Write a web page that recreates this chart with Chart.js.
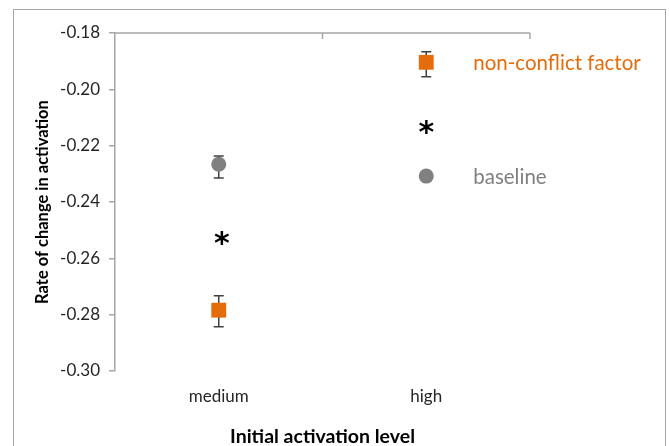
<!DOCTYPE html>
<html>
<head>
<meta charset="utf-8">
<script src="https://cdn.jsdelivr.net/npm/chart.js@4/dist/chart.umd.min.js"></script>
<style>
  html, body { margin: 0; padding: 0; background: #fff; overflow: hidden; }
  #wrap { position: relative; width: 669px; height: 446px; }
  #frame { position: absolute; left: 13px; top: 9px; width: 651px; height: 460px; border: 1.5px solid #a6a6a6; }
  canvas { position: absolute; left: 0; top: 0; }
</style>
</head>
<body>
<div id="wrap">
  <div id="frame"></div>
  <canvas id="myChart" width="669" height="446"></canvas>
</div>
<script>
// data
const categories = ['medium', 'high'];
const nonConflict = [-0.2784, -0.1904];
const nonConflictLow = [-0.2843, -0.1955];
const nonConflictHigh = [-0.2733, -0.1867];
const baseline = [-0.2266, -0.2308];
const baselineLow = [-0.2315, null];
const baselineHigh = [-0.2237, null];
const sigMarks = [-0.2531, -0.2137]; // asterisks
const yMin = -0.30, yMax = -0.18, yStep = 0.02;

const orange = '#e46c0a';
const grey = '#808080';
const axisGrey = '#a6a6a6';
const font = 'Lato, "Open Sans", sans-serif';

// error bars drawn under the markers
const errorBars = {
  id: 'errorBars',
  beforeDatasetsDraw(chart) {
    const { ctx, scales: { x, y } } = chart;
    const sets = [[nonConflictLow, nonConflictHigh], [baselineLow, baselineHigh]];
    ctx.save();
    ctx.strokeStyle = '#404040';
    ctx.lineWidth = 1.5;
    sets.forEach(([lo, hi]) => {
      lo.forEach((v, i) => {
        if (v === null) return;
        const px = x.getPixelForValue(i);
        const y1 = y.getPixelForValue(lo[i]);
        const y2 = y.getPixelForValue(hi[i]);
        ctx.beginPath();
        ctx.moveTo(px, y1); ctx.lineTo(px, y2);
        ctx.moveTo(px - 5, y1); ctx.lineTo(px + 5, y1);
        ctx.moveTo(px - 5, y2); ctx.lineTo(px + 5, y2);
        ctx.stroke();
      });
    });
    ctx.restore();
  }
};

// asterisks and the direct series labels
const annotations = {
  id: 'annotations',
  afterDatasetsDraw(chart) {
    const { ctx, scales: { x, y } } = chart;
    ctx.save();
    ctx.fillStyle = '#000';
    ctx.font = 'bold 30px "DejaVu Sans", sans-serif';
    ctx.textAlign = 'center';
    ctx.textBaseline = 'middle';
    sigMarks.forEach((v, i) => {
      ctx.fillText('*', x.getPixelForValue(i) + (i === 0 ? 3 : 0), y.getPixelForValue(v) + 6);
    });
    const last = categories.length - 1;
    const lx = x.getPixelForValue(last) + 47;
    ctx.font = '20.5px ' + font;
    ctx.textAlign = 'left';
    ctx.fillStyle = orange;
    ctx.fillText('non-conflict factor', lx, y.getPixelForValue(nonConflict[last]) + 1);
    ctx.fillStyle = grey;
    ctx.fillText('baseline', lx, y.getPixelForValue(baseline[last]) + 1);
    ctx.restore();
  }
};

// the category axis line sits at the top of the plot, ticks pointing down
const topAxis = {
  id: 'topAxis',
  afterDraw(chart) {
    const { ctx, chartArea: a, scales: { x } } = chart;
    ctx.save();
    ctx.strokeStyle = axisGrey;
    ctx.lineWidth = 1.5;
    ctx.beginPath();
    ctx.moveTo(a.left, a.top);
    ctx.lineTo(a.right, a.top);
    for (let i = 1; i <= categories.length; i++) {
      const px = i < categories.length
        ? (x.getPixelForValue(i - 1) + x.getPixelForValue(i)) / 2
        : a.right;
      ctx.moveTo(px, a.top);
      ctx.lineTo(px, a.top + 6);
    }
    ctx.stroke();
    ctx.restore();
  }
};

const myChartCanvas = document.getElementById('myChart');

const myChart = new Chart(myChartCanvas, {
  type: 'line',
  data: {
    labels: categories,
    datasets: [{
      label: 'non-conflict factor',
      data: nonConflict,
      showLine: false,
      pointStyle: 'rect',
      pointRadius: 10.5,
      pointHoverRadius: 10.5,
      pointBorderWidth: 0,
      backgroundColor: orange,
      borderColor: orange,
      clip: false
    }, {
      label: 'baseline',
      data: baseline,
      showLine: false,
      pointStyle: 'circle',
      pointRadius: 7.5,
      pointHoverRadius: 7.5,
      pointBorderWidth: 0,
      backgroundColor: grey,
      borderColor: grey,
      clip: false
    }]
  },
  options: {
    responsive: false,
    animation: false,
    layout: { padding: { left: 27, right: 139, top: 33, bottom: 0 } },
    plugins: {
      legend: { display: false },
      tooltip: { enabled: false }
    },
    scales: {
      x: {
        offset: true,
        border: { display: false },
        grid: { display: false },
        ticks: { padding: 7, color: '#262626', font: { family: font, size: 17 } },
        title: {
          display: true,
          text: 'Initial activation level',
          color: '#000',
          font: { family: font, size: 19.5, weight: 'bold' },
          padding: { top: 0, bottom: -2 }
        },
        afterFit(scale) { scale.height = 75; }
      },
      y: {
        min: yMin,
        max: yMax,
        border: { display: true, color: axisGrey, width: 1.5 },
        grid: { drawOnChartArea: false, color: axisGrey, lineWidth: 1.5, tickLength: 6 },
        ticks: {
          stepSize: yStep,
          padding: 9,
          color: '#262626',
          font: { family: font, size: 17 },
          callback: v => v.toFixed(2)
        },
        title: {
          display: true,
          text: 'Rate of change in activation',
          color: '#000',
          font: { family: font, size: 16.5, weight: 'bold' },
          padding: { top: 6, bottom: 0 }
        },
        afterFit(scale) { scale.width = 88; }
      }
    }
  },
  plugins: [errorBars, annotations, topAxis]
});
</script>
</body>
</html>
